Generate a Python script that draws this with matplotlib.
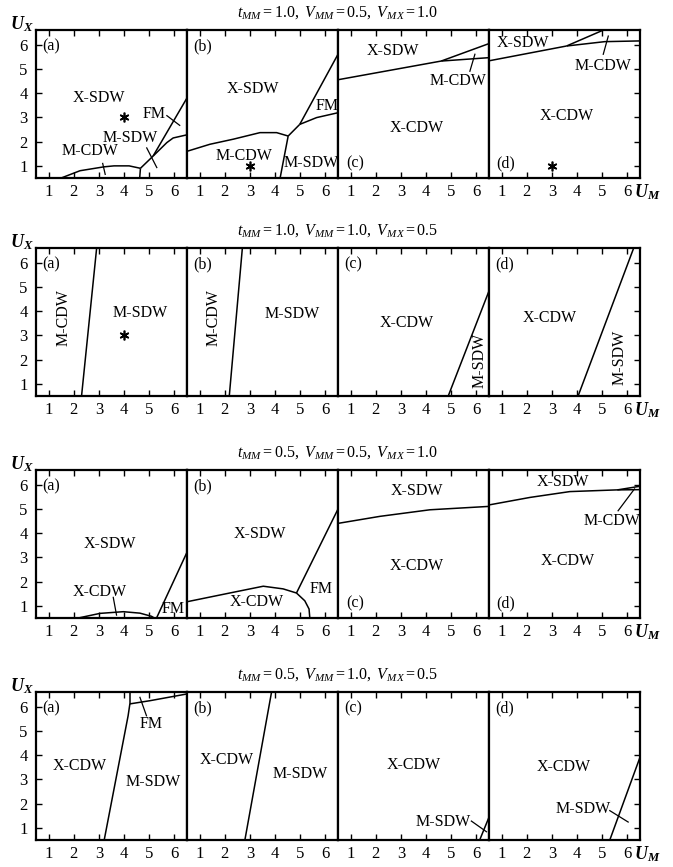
import matplotlib.pyplot as plt

plt.rcParams['font.family'] = ['Liberation Serif', 'DejaVu Serif']
plt.rcParams['mathtext.fontset'] = 'custom'
plt.rcParams['mathtext.rm'] = 'Liberation Serif'
plt.rcParams['mathtext.it'] = 'Liberation Serif:italic'
plt.rcParams['mathtext.bf'] = 'Liberation Serif:bold:italic'

# row titles
titles = [r'$\mathit{t_{MM}=1.0,\ V_{MM}=0.5,\ V_{MX}=1.0}$',
          r'$\mathit{t_{MM}=1.0,\ V_{MM}=1.0,\ V_{MX}=0.5}$',
          r'$\mathit{t_{MM}=0.5,\ V_{MM}=0.5,\ V_{MX}=1.0}$',
          r'$\mathit{t_{MM}=0.5,\ V_{MM}=1.0,\ V_{MX}=0.5}$']
panel_names = ['(a)', '(b)', '(c)', '(d)']
ticks = [1, 2, 3, 4, 5, 6]

# ---- row 1 : t_MM=1.0, V_MM=0.5, V_MX=1.0
r1a_lines = [([1.5, 2.25, 3.2, 3.6, 4.2, 4.65], [0.5, 0.8, 0.96, 1.0, 1.0, 0.9]),
             ([4.65, 4.62], [0.9, 0.5]),
             ([4.65, 5.15], [0.9, 1.4]),
             ([5.15, 6.5], [1.4, 3.8]),
             ([5.15, 5.7, 5.95, 6.5], [1.4, 1.96, 2.15, 2.28])]
r1a_labels = [('X-SDW', 3.0, 3.8, 0), ('FM', 5.2, 3.15, 0), ('M-SDW', 4.25, 2.15, 0), ('M-CDW', 2.65, 1.6, 0)]
r1a_leaders = [([3.15, 3.25], [1.1, 0.65]), ([4.9, 5.3], [1.74, 0.93]), ([5.7, 6.21], [3.07, 2.67])]
r1a_stars = [(4, 3)]

r1b_lines = [([0.5, 1.41, 2.34, 3.4, 4.06, 4.52], [1.6, 1.89, 2.1, 2.37, 2.37, 2.23]),
             ([4.52, 4.2], [2.23, 0.5]),
             ([4.52, 4.98], [2.23, 2.71]),
             ([4.98, 6.5], [2.71, 5.6]),
             ([4.98, 5.65, 6.5], [2.71, 2.99, 3.19])]
r1b_labels = [('X-SDW', 3.1, 4.17, 0), ('M-CDW', 2.75, 1.4, 0), ('M-SDW', 5.45, 1.12, 0), ('FM', 6.05, 3.47, 0)]
r1b_leaders = []
r1b_stars = [(3, 1)]

r1c_lines = [([0.5, 4.6], [4.55, 5.32]),
             ([4.6, 6.5], [5.32, 6.04]),
             ([4.6, 6.5], [5.32, 5.46])]
r1c_labels = [('X-SDW', 2.7, 5.73, 0), ('M-CDW', 5.27, 4.5, 0), ('X-CDW', 3.62, 2.57, 0)]
r1c_leaders = [([5.74, 5.94], [4.9, 5.6])]
r1c_stars = []

r1d_lines = [([0.5, 3.58], [5.33, 5.94]),
             ([3.58, 5.05], [5.94, 6.6]),
             ([3.58, 5.1, 6.5], [5.94, 6.12, 6.15])]
r1d_labels = [('X-SDW', 1.86, 6.08, 0), ('M-CDW', 5.04, 5.12, 0), ('X-CDW', 3.58, 3.06, 0)]
r1d_leaders = [([5.04, 5.24], [5.6, 6.35])]
r1d_stars = [(3, 1)]

# ---- row 2 : t_MM=1.0, V_MM=1.0, V_MX=0.5
r2a_lines = [([2.31, 2.91], [0.5, 6.6])]
r2a_labels = [('M-CDW', 1.58, 3.73, 90), ('M-SDW', 4.63, 3.93, 0)]
r2a_leaders = []
r2a_stars = [(4, 3)]

r2b_lines = [([2.18, 2.7], [0.5, 6.6])]
r2b_labels = [('M-CDW', 1.54, 3.73, 90), ('M-SDW', 4.7, 3.9, 0)]
r2b_leaders = []
r2b_stars = []

r2c_lines = [([4.88, 6.5], [0.5, 4.83])]
r2c_labels = [('X-CDW', 3.23, 3.52, 0), ('M-SDW', 6.13, 1.95, 90)]
r2c_leaders = []
r2c_stars = []

r2d_lines = [([4.04, 6.25], [0.5, 6.6])]
r2d_labels = [('X-CDW', 2.92, 3.73, 0), ('M-SDW', 5.7, 2.08, 90)]
r2d_leaders = []
r2d_stars = []

# ---- row 3 : t_MM=0.5, V_MM=0.5, V_MX=1.0
r3a_lines = [([2.18, 3.04, 3.97, 4.63, 5.09, 5.2], [0.5, 0.69, 0.76, 0.7, 0.57, 0.5]),
             ([5.29, 6.5], [0.5, 3.21])]
r3a_labels = [('X-SDW', 3.44, 3.55, 0), ('X-CDW', 3.04, 1.56, 0), ('FM', 5.95, 0.87, 0)]
r3a_leaders = [([3.57, 3.7], [1.35, 0.62])]
r3a_stars = []

r3b_lines = [([0.5, 2.34, 3.53, 4.32, 4.85, 5.18, 5.35, 5.38], [1.17, 1.56, 1.81, 1.7, 1.53, 1.21, 0.87, 0.5]),
             ([4.85, 6.5], [1.53, 4.99])]
r3b_labels = [('X-SDW', 3.4, 3.96, 0), ('X-CDW', 3.27, 1.15, 0), ('FM', 5.85, 1.7, 0)]
r3b_leaders = []
r3b_stars = []

r3c_lines = [([0.5, 2.17, 4.15, 6.5], [4.4, 4.69, 4.96, 5.1])]
r3c_labels = [('X-SDW', 3.62, 5.75, 0), ('X-CDW', 3.62, 2.66, 0)]
r3c_leaders = []
r3c_stars = []

r3d_lines = [([0.5, 2.13, 3.71, 5.57, 6.5], [5.16, 5.47, 5.71, 5.78, 5.79]),
             ([5.6, 6.5], [5.78, 5.93])]
r3d_labels = [('X-SDW', 3.45, 6.1, 0), ('M-CDW', 5.37, 4.51, 0), ('X-CDW', 3.63, 2.86, 0)]
r3d_leaders = [([5.63, 6.28], [4.92, 5.82])]
r3d_stars = []

# ---- row 4 : t_MM=0.5, V_MM=1.0, V_MX=0.5
r4a_lines = [([3.21, 4.16, 4.23], [0.5, 5.62, 6.11]),
             ([4.23, 4.23], [6.11, 6.6]),
             ([4.23, 5.02, 6.5], [6.11, 6.24, 6.52])]
r4a_labels = [('X-CDW', 2.25, 3.56, 0), ('M-SDW', 5.15, 2.88, 0), ('FM', 5.09, 5.27, 0)]
r4a_leaders = [([4.89, 4.63], [5.62, 6.38])]
r4a_stars = []

r4b_lines = [([2.8, 3.86], [0.5, 6.6])]
r4b_labels = [('X-CDW', 2.07, 3.8, 0), ('M-SDW', 4.98, 3.22, 0)]
r4b_leaders = []
r4b_stars = []

r4c_lines = [([6.13, 6.5], [0.5, 1.44])]
r4c_labels = [('X-CDW', 3.49, 3.58, 0), ('M-SDW', 4.68, 1.25, 0)]
r4c_leaders = [([5.8, 6.4], [1.28, 0.84])]
r4c_stars = []

r4d_lines = [([5.3, 6.5], [0.5, 3.91])]
r4d_labels = [('X-CDW', 3.45, 3.5, 0), ('M-SDW', 4.24, 1.78, 0)]
r4d_leaders = [([5.3, 6.03], [1.71, 1.24])]
r4d_stars = []

rows = [
    [(r1a_lines, r1a_labels, r1a_leaders, r1a_stars), (r1b_lines, r1b_labels, r1b_leaders, r1b_stars),
     (r1c_lines, r1c_labels, r1c_leaders, r1c_stars), (r1d_lines, r1d_labels, r1d_leaders, r1d_stars)],
    [(r2a_lines, r2a_labels, r2a_leaders, r2a_stars), (r2b_lines, r2b_labels, r2b_leaders, r2b_stars),
     (r2c_lines, r2c_labels, r2c_leaders, r2c_stars), (r2d_lines, r2d_labels, r2d_leaders, r2d_stars)],
    [(r3a_lines, r3a_labels, r3a_leaders, r3a_stars), (r3b_lines, r3b_labels, r3b_leaders, r3b_stars),
     (r3c_lines, r3c_labels, r3c_leaders, r3c_stars), (r3d_lines, r3d_labels, r3d_leaders, r3d_stars)],
    [(r4a_lines, r4a_labels, r4a_leaders, r4a_stars), (r4b_lines, r4b_labels, r4b_leaders, r4b_stars),
     (r4c_lines, r4c_labels, r4c_leaders, r4c_stars), (r4d_lines, r4d_labels, r4d_leaders, r4d_stars)],
]
# panel label at bottom-left instead of top-left
bottom_tag = {(0, 2), (0, 3), (2, 2), (2, 3)}

W, H = 673, 867
fig = plt.figure(figsize=(W / 100, H / 100), dpi=100)

lefts = [36, 187, 338, 489]
tops = [30, 248, 470, 692]
pw, ph = 151, 148

for r, row in enumerate(rows):
    top = tops[r]
    for c, (lines, labels, leaders, stars) in enumerate(row):
        ax = fig.add_axes([lefts[c] / W, 1 - (top + ph) / H, pw / W, ph / H])
        ax.set_xlim(0.5, 6.5)
        ax.set_ylim(0.5, 6.6)
        for xs, ys in lines:
            ax.plot(xs, ys, color='black', lw=1.1, solid_capstyle='butt')
        for xs, ys in leaders:
            ax.plot(xs, ys, color='black', lw=0.9)
        for txt, x, y, rot in labels:
            ax.text(x, y, txt, ha='center', va='center', rotation=rot, fontsize=11.5)
        for x, y in stars:
            ax.plot(x, y, marker=(6, 2, 0), color='black', markersize=7, mew=1.2)
        if (r, c) in bottom_tag:
            ax.text(1.17, 1.1, panel_names[c], ha='center', va='center', fontsize=11.5)
        else:
            ax.text(1.12, 5.94, panel_names[c], ha='center', va='center', fontsize=11.5)
        for sp in ax.spines.values():
            sp.set_linewidth(1.6)
        ax.set_xticks(ticks)
        ax.set_yticks(ticks)
        ax.tick_params(direction='in', length=4, width=1, top=True, bottom=True,
                       left=(c == 0), right=(c == 3), labelleft=(c == 0),
                       labelsize=12, pad=4)
        ax.tick_params(axis='y', pad=6)
    fig.text(338 / W, 1 - (top - 17) / H, titles[r], ha='center', va='center', fontsize=11.5)
    fig.text(22 / W, 1 - (top - 6) / H, r'$\mathbf{U_X}$', ha='center', va='center', fontsize=13)
    fig.text(634 / W, 1 - (top + ph + 14) / H, r'$\mathbf{U_M}$', ha='left', va='center', fontsize=13)

fig.savefig('out.png', dpi=100)
